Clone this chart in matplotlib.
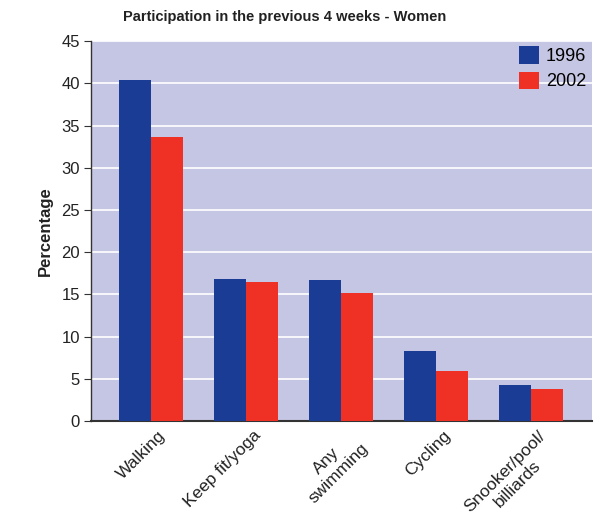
import matplotlib
matplotlib.use("Agg")
import matplotlib.pyplot as plt
import matplotlib.transforms as mtransforms
import numpy as np
from matplotlib.patches import Patch

plt.rcParams["font.family"] = ["Liberation Sans", "DejaVu Sans"]

categories = ["Walking", "Keep fit/yoga", "Any\nswimming", "Cycling", "Snooker/pool/\nbilliards"]
values_1996 = [40.4, 16.8, 16.7, 8.3, 4.3]
values_2002 = [33.6, 16.5, 15.2, 5.9, 3.8]
series_labels = ["1996", "2002"]
yticks = [0, 5, 10, 15, 20, 25, 30, 35, 40, 45]

blue = "#1b3c94"
red = "#ee3124"
bg = "#c5c6e3"
txt = "#222222"

fig = plt.figure(figsize=(6.07, 5.13), dpi=100)
ax = fig.add_axes([0.150, 0.179, 0.825, 0.741])
ax.set_facecolor(bg)

x = np.arange(len(categories))
w = 0.337
ax.bar(x - w/2, values_1996, width=w, color=blue, zorder=3, label=series_labels[0])
ax.bar(x + w/2, values_2002, width=w, color=red, zorder=3, label=series_labels[1])

ax.set_xlim(-0.63, len(categories) - 1 + 0.64)
ax.set_ylim(0, 45)
ax.set_yticks(yticks)
ax.yaxis.grid(True, color="white", linewidth=1.2, zorder=1)
ax.set_axisbelow(True)

for s in ["top", "right"]:
    ax.spines[s].set_visible(False)
ax.spines["left"].set_color("#333333")
ax.spines["bottom"].set_color("#333333")
ax.spines["left"].set_linewidth(1.0)
ax.spines["bottom"].set_linewidth(1.5)

ax.tick_params(axis="y", direction="out", length=5, colors="#333333", labelsize=12, labelcolor=txt, pad=3)
ax.tick_params(axis="x", length=0, pad=5)
ax.set_xticks(x)
ax.set_xticklabels(categories, rotation=45, ha="right", rotation_mode="anchor",
                   fontsize=12.5, color=txt, multialignment="center")
offset = mtransforms.ScaledTranslation(7/100, 0, fig.dpi_scale_trans)
for lab in ax.get_xticklabels():
    lab.set_transform(lab.get_transform() + offset)

ax.set_ylabel("Percentage", fontsize=12, fontweight="bold", color=txt, labelpad=6)
fig.text(123/607, 1 - 17/513, "Participation in the previous 4 weeks - Women", ha="left", va="center",
         fontsize=10.5, fontweight="bold", color=txt)

handles = [Patch(facecolor=blue, edgecolor="none"), Patch(facecolor=red, edgecolor="none")]
ax.legend(handles, series_labels, loc="upper right", frameon=False, fontsize=13,
          handlelength=1.1, handleheight=1.1, handletextpad=0.4, labelspacing=0.35,
          borderaxespad=0.0, borderpad=0.3)

fig.savefig("out.png", dpi=100, facecolor="white")
